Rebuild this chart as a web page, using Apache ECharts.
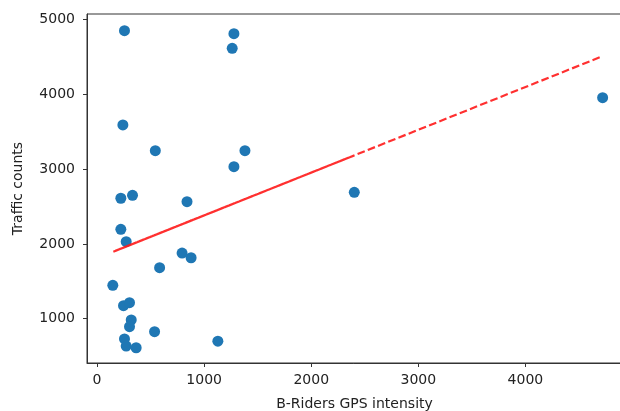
<!DOCTYPE html>
<html>
<head>
    <meta charset="utf-8">
    <title>Traffic counts vs GPS intensity</title>
    <script src="https://cdn.jsdelivr.net/npm/echarts@6/dist/echarts.min.js"></script>
    <style>
        html, body { margin: 0; padding: 0; background: #fff; }
        #main { width: 620px; height: 411px; }
    </style>
</head>
<body>
<div id="main"></div>
<script>
    // data
    var gpsIntensity = [256, 1278, 1262, 241, 544, 1381, 1278, 2402, 222, 331, 840, 222, 272, 794,
                        878, 584, 147, 247, 303, 319, 303, 537, 1128, 256, 272, 365, 4721];
    var trafficCounts = [4850, 4810, 4615, 3590, 3246, 3246, 3032, 2690, 2610, 2650, 2565, 2195, 2030, 1878,
                         1815, 1682, 1447, 1174, 1214, 983, 893, 826, 700, 729, 635, 612, 3955];
    // linear fit (slope, intercept) as drawn in the reference
    var fitSlope = 0.572;
    var fitIntercept = 1809;
    var xTicks = [0, 1000, 2000, 3000, 4000];
    var yTicks = [1000, 2000, 3000, 4000, 5000];

    var points = gpsIntensity.map(function (x, i) { return [x, trafficCounts[i]]; });
    // fit line goes through every x in data order, like plt.plot(x, fit(x), 'r--')
    var fitLine = gpsIntensity.map(function (x) { return [x, fitIntercept + fitSlope * x]; });

    var font = 'DejaVu Sans';
    var plain = function (v) { return String(v); };
    var chart = echarts.init(document.getElementById('main'));
    chart.setOption({
        animation: false,
        textStyle: { fontFamily: font },
        grid: {
            left: 87, right: -2, top: 14, bottom: 48,
            outerBoundsMode: 'none',
            show: true, borderColor: '#333', borderWidth: 1
        },
        xAxis: {
            type: 'value',
            min: -94, max: 4902,
            name: 'B-Riders GPS intensity',
            nameLocation: 'middle',
            nameGap: 34,
            nameTextStyle: { fontFamily: font, fontSize: 14, color: '#222' },
            splitLine: { show: false },
            axisLine: { onZero: false, lineStyle: { color: '#333', width: 1 } },
            axisTick: { show: true, length: 4, customValues: xTicks, lineStyle: { color: '#333' } },
            axisLabel: { customValues: xTicks, formatter: plain, margin: 10, fontFamily: font, fontSize: 14, color: '#222' }
        },
        yAxis: {
            type: 'value',
            min: 408, max: 5073,
            name: 'Traffic counts',
            nameLocation: 'middle',
            nameRotate: 90,
            nameGap: 62,
            nameTextStyle: { fontFamily: font, fontSize: 14, color: '#222' },
            splitLine: { show: false },
            axisLine: { show: true, onZero: false, lineStyle: { color: '#333', width: 1 } },
            axisTick: { show: true, length: 4, customValues: yTicks, lineStyle: { color: '#333' } },
            axisLabel: { customValues: yTicks, formatter: plain, margin: 12, fontFamily: font, fontSize: 14, color: '#222' }
        },
        series: [
            {
                type: 'scatter',
                data: points,
                symbolSize: 11,
                itemStyle: { color: '#1f77b4', opacity: 1 },
                z: 2
            },
            {
                type: 'line',
                data: fitLine,
                showSymbol: false,
                symbol: 'none',
                lineStyle: { color: '#ff1a1a', width: 2.2, type: [7.7, 3.3], opacity: 0.9 },
                z: 3
            }
        ]
    });
</script>
</body>
</html>
